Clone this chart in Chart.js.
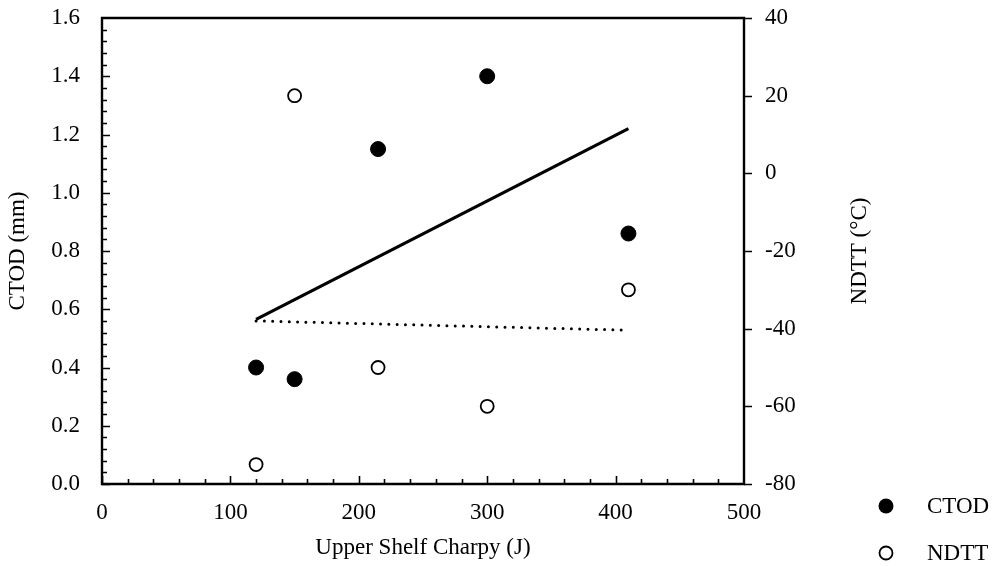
<!DOCTYPE html>
<html>
<head>
<meta charset="utf-8">
<script src="https://cdn.jsdelivr.net/npm/chart.js@4.4.1/dist/chart.umd.min.js"></script>
<style>
  html, body { margin: 0; padding: 0; background: #fff; }
  canvas { display: block; }
</style>
</head>
<body>
<canvas id="c" width="1000" height="566"></canvas>
<script>
// ---- data ----
const charpyX   = [120, 150, 215, 300, 410];          // Upper Shelf Charpy (J)
const ctodVals  = [0.40, 0.36, 1.15, 1.40, 0.86];     // CTOD (mm)
const ndttVals  = [-75, 20, -50, -60, -30];           // NDTT (°C)
const trendX    = [120, 410];
const ctodTrend = [0.565, 1.22];
const ndttTrend = [-38.0, -40.4];
const xTicks    = [0, 100, 200, 300, 400, 500];
const yTicks    = [0, 0.2, 0.4, 0.6, 0.8, 1.0, 1.2, 1.4, 1.6];
const y2Ticks   = [-80, -60, -40, -20, 0, 20, 40];
const legendLabels = ['CTOD', 'NDTT'];
const y2Title   = 'NDTT (°C)';

const FONT = "'Liberation Serif', 'Times New Roman', serif";
const FS = 23;

const pts = (xs, ys) => xs.map((x, i) => ({x: x, y: ys[i]}));
const noPadV = s => { s.paddingTop = 0; s.paddingBottom = 0; };

const framePlugin = {
  id: 'frame',
  afterDatasetsDraw(chart) {
    const ctx = chart.ctx;
    const a = chart.chartArea;
    const sx = chart.scales.x, sy = chart.scales.y, sy2 = chart.scales.y2;
    ctx.save();
    ctx.strokeStyle = '#000';
    ctx.lineWidth = 1.6;
    ctx.lineCap = 'butt';
    ctx.beginPath();
    // minor + major ticks on the left axis (inside)
    const yStep = yTicks[1] - yTicks[0];
    for (let i = 0; i < yTicks.length - 1; i++) {
      for (let k = 0; k < 5; k++) {
        const v = yTicks[i] + yStep * k / 5;
        const py = Math.round(sy.getPixelForValue(v)) + 0.5;
        const len = k === 0 ? 8 : 5;
        ctx.moveTo(a.left, py); ctx.lineTo(a.left + len, py);
      }
    }
    // minor + major ticks on the bottom axis (inside)
    const xStep = xTicks[1] - xTicks[0];
    for (let i = 0; i < xTicks.length - 1; i++) {
      for (let k = 0; k < 5; k++) {
        const v = xTicks[i] + xStep * k / 5;
        const px = Math.round(sx.getPixelForValue(v)) + 0.5;
        const len = k === 0 ? 8 : 5;
        ctx.moveTo(px, a.bottom); ctx.lineTo(px, a.bottom - len);
      }
    }
    // major ticks on the right axis (outside)
    y2Ticks.forEach(v => {
      const py = Math.round(sy2.getPixelForValue(v)) + 0.5;
      ctx.moveTo(a.right, py); ctx.lineTo(a.right + 8, py);
    });
    ctx.stroke();
    // frame
    ctx.lineWidth = 2.4;
    ctx.beginPath();
    ctx.moveTo(a.left, a.top); ctx.lineTo(a.right, a.top);
    ctx.lineTo(a.right, a.bottom); ctx.lineTo(a.left, a.bottom);
    ctx.closePath();
    ctx.stroke();

    ctx.font = FS + 'px ' + FONT;
    ctx.fillStyle = '#000';

    // right axis title, reading bottom-to-top
    ctx.save();
    ctx.translate(860, (a.top + a.bottom) / 2);
    ctx.rotate(-Math.PI / 2);
    ctx.textAlign = 'center';
    ctx.textBaseline = 'middle';
    ctx.fillText(y2Title, 0, 0);
    ctx.restore();

    // legend
    ctx.textAlign = 'left';
    ctx.textBaseline = 'middle';
    const lx = 886, tx = 927, ly = [506, 553];
    ctx.beginPath();
    ctx.arc(lx, ly[0], 7.5, 0, Math.PI * 2);
    ctx.fill();
    ctx.fillText(legendLabels[0], tx, ly[0] + 1);
    ctx.beginPath();
    ctx.arc(lx, ly[1], 6.5, 0, Math.PI * 2);
    ctx.lineWidth = 1.8;
    ctx.fillStyle = '#fff';
    ctx.fill();
    ctx.stroke();
    ctx.fillStyle = '#000';
    ctx.fillText(legendLabels[1], tx, ly[1] + 1);
    ctx.restore();
  }
};

new Chart(document.getElementById('c'), {
  type: 'scatter',
  data: {
    datasets: [
      {
        label: 'CTOD trend', type: 'line', data: pts(trendX, ctodTrend), yAxisID: 'y',
        borderColor: '#000', borderWidth: 3.2, pointRadius: 0, fill: false, order: 3
      },
      {
        label: 'NDTT trend', type: 'line', data: pts(trendX, ndttTrend), yAxisID: 'y2',
        borderColor: '#000', borderWidth: 3, borderDash: [0, 8.3], borderCapStyle: 'round',
        pointRadius: 0, fill: false, order: 3
      },
      {
        label: legendLabels[0], data: pts(charpyX, ctodVals), yAxisID: 'y',
        backgroundColor: '#000', borderColor: '#000', borderWidth: 1,
        pointRadius: 7.5, pointHoverRadius: 7.5, order: 1
      },
      {
        label: legendLabels[1], data: pts(charpyX, ndttVals), yAxisID: 'y2',
        backgroundColor: '#fff', borderColor: '#000', borderWidth: 1.8,
        pointRadius: 6.5, pointHoverRadius: 6.5, order: 1
      }
    ]
  },
  options: {
    responsive: false,
    animation: false,
    events: [],
    layout: { padding: { top: 18, left: 0, right: 0, bottom: 0 } },
    plugins: { legend: { display: false }, tooltip: { enabled: false } },
    scales: {
      x: {
        type: 'linear', position: 'bottom', min: 0, max: 500,
        afterBuildTicks: s => { s.ticks = xTicks.map(v => ({value: v})); },
        afterFit: s => { s.height = 82; s.paddingLeft = 0; s.paddingRight = 0; },
        grid: { display: false, drawTicks: false },
        border: { display: false },
        ticks: { color: '#000', padding: 15, font: { family: FONT, size: FS }, maxRotation: 0,
                 callback: v => String(v) },
        title: { display: true, text: 'Upper Shelf Charpy (J)', color: '#000',
                 font: { family: FONT, size: FS }, padding: { top: 0, bottom: 4 } }
      },
      y: {
        type: 'linear', position: 'left', min: 0, max: 1.6,
        afterBuildTicks: s => { s.ticks = yTicks.map(v => ({value: v})); },
        afterFit: s => { s.width = 102; noPadV(s); },
        grid: { display: false, drawTicks: false },
        border: { display: false },
        ticks: { color: '#000', padding: 22, font: { family: FONT, size: FS },
                 callback: v => Number(v).toFixed(1) },
        title: { display: true, text: 'CTOD (mm)', color: '#000',
                 font: { family: FONT, size: FS }, padding: { top: 4, bottom: 0 } }
      },
      y2: {
        type: 'linear', position: 'right', min: -80, max: 40,
        afterBuildTicks: s => { s.ticks = y2Ticks.map(v => ({value: v})); },
        afterFit: s => { s.width = 256; noPadV(s); },
        grid: { display: false, drawTicks: false },
        border: { display: false },
        ticks: { color: '#000', padding: 21, font: { family: FONT, size: FS },
                 callback: v => String(v) },
        title: { display: false }
      }
    }
  },
  plugins: [framePlugin]
});
</script>
</body>
</html>
